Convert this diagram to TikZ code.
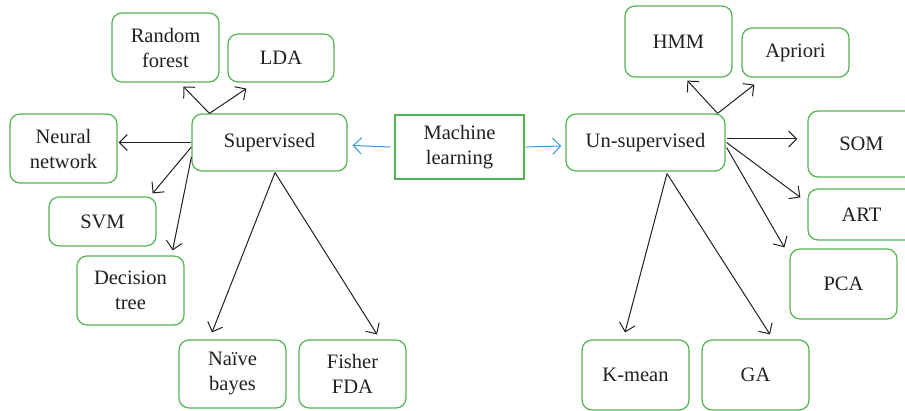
\documentclass[tikz,border=0pt]{standalone}
\usepackage{fontspec}
\setmainfont{Liberation Serif}
\usetikzlibrary{arrows.meta}
\definecolor{boxgreen}{RGB}{84,180,80}
\definecolor{txt}{RGB}{35,31,32}
\definecolor{ablue}{RGB}{52,152,219}
\begin{document}
\begin{tikzpicture}[x=1pt,y=-1pt,
  box/.style={draw=boxgreen,line width=1.2pt,rounded corners=10pt,inner sep=0pt,
    align=center,text=txt,font=\fontsize{20.5}{25}\selectfont},
  mlbox/.style={draw=boxgreen,line width=1.1pt,inner sep=0pt,
    align=center,text=txt,font=\fontsize{20.5}{25}\selectfont},
  arr/.style={draw=txt,line width=1pt,-{Straight Barb[length=8pt,width=16pt]}},
  barr/.style={draw=ablue,line width=1pt,-{Straight Barb[length=8pt,width=16pt]}}]
\useasboundingbox (0,0) rectangle (905,411);
% left side
\node[box,minimum width=107pt,minimum height=69pt] (rf) at (165.5,47.5) {Random\\forest};
\node[box,minimum width=106pt,minimum height=48pt] (lda) at (281,58) {LDA};
\node[box,minimum width=107pt,minimum height=69pt] (nn) at (63.5,148.5) {Neural\\network};
\node[box,minimum width=155pt,minimum height=57pt] (sup) at (269.5,142.5) {Supervised};
\node[mlbox,minimum width=129pt,minimum height=64pt] (ml) at (459.5,147) {Machine\\learning};
\node[box,minimum width=107pt,minimum height=49pt] (svm) at (102.5,221.5) {SVM};
\node[box,minimum width=107pt,minimum height=69pt] (dt) at (130.5,290.5) {Decision\\tree};
\node[box,minimum width=107pt,minimum height=68pt] (nb) at (232.5,374) {Naïve\\bayes};
\node[box,minimum width=107pt,minimum height=68pt] (ff) at (352.5,374) {Fisher\\FDA};
% right side
\node[box,minimum width=159pt,minimum height=57pt] (un) at (645.5,142.5) {Un-supervised};
\node[box,minimum width=107pt,minimum height=71pt] (hmm) at (678.5,41.5) {HMM};
\node[box,minimum width=107pt,minimum height=49pt] (ap) at (795.5,52.5) {Apriori};
\node[box,minimum width=107pt,minimum height=66pt] (som) at (861.5,144) {SOM};
\node[box,minimum width=107pt,minimum height=51pt] (art) at (861.5,214.5) {ART};
\node[box,minimum width=107pt,minimum height=70pt] (pca) at (843.5,284) {PCA};
\node[box,minimum width=107pt,minimum height=70pt] (km) at (635.5,375) {K-mean};
\node[box,minimum width=107pt,minimum height=70pt] (ga) at (755.5,375) {GA};
% blue arrows
\draw[barr] ([xshift=-4pt]ml.west) -- ([xshift=5pt,yshift=-3pt]sup.east);
\draw[barr] ([xshift=1pt]ml.east) -- ([xshift=-4pt,yshift=-3.5pt]un.west);
% supervised arrows
\draw[arr] ([xshift=18pt]sup.north west) -- ([xshift=72pt,yshift=-4pt]rf.south west);
\draw[arr] ([xshift=18pt]sup.north west) -- ([xshift=19pt,yshift=-6pt]lda.south west);
\draw[arr] (sup.west) -- ([xshift=1pt,yshift=6pt]nn.east);
\draw[arr] ([yshift=-4.5pt]sup.west) -- ([xshift=-4pt,yshift=3pt]svm.north east);
\draw[arr] ([yshift=-14.5pt]sup.west) -- ([xshift=-12pt,yshift=5pt]dt.north east);
\draw[arr] ([xshift=5.5pt,yshift=-1pt]sup.south) -- ([xshift=-20.5pt,yshift=7pt]nb.north);
\draw[arr] ([xshift=5.5pt,yshift=-1pt]sup.south) -- ([xshift=24.5pt,yshift=5pt]ff.north);
% unsupervised arrows
\draw[arr] ([xshift=-8pt]un.north east) -- ([xshift=63pt,yshift=-3pt]hmm.south west);
\draw[arr] ([xshift=-8pt]un.north east) -- ([xshift=13pt,yshift=-7pt]ap.south west);
\draw[arr] ([xshift=1pt,yshift=3.5pt]un.east) -- ([xshift=-10pt,yshift=5pt]som.west);
\draw[arr] ([xshift=1pt]un.east) -- ([xshift=-7pt,yshift=-9pt]art.north west);
\draw[arr] ([xshift=1pt,yshift=-5pt]un.east) -- ([xshift=-5pt,yshift=1pt]pca.north west);
\draw[arr] ([xshift=21.5pt,yshift=-2pt]un.south) -- ([xshift=-10.5pt,yshift=7pt]km.north);
\draw[arr] ([xshift=21.5pt,yshift=-2pt]un.south) -- ([xshift=14.5pt,yshift=5pt]ga.north);
\end{tikzpicture}
\end{document}
